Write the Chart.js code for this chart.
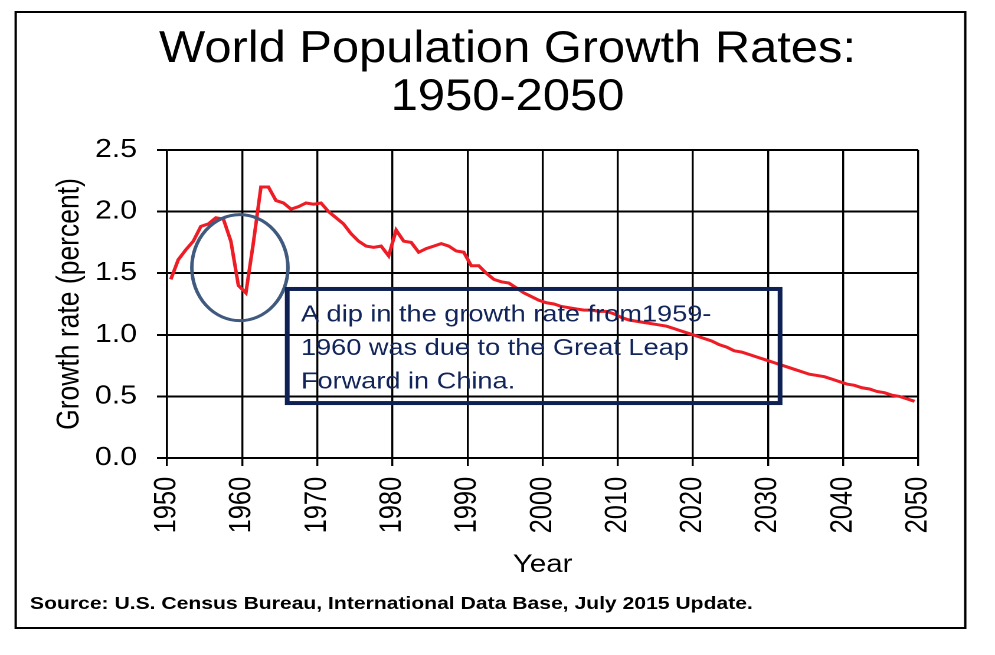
<!DOCTYPE html>
<html>
<head>
<meta charset="utf-8">
<title>World Population Growth Rates: 1950-2050</title>
<script src="https://cdn.jsdelivr.net/npm/chart.js@4.4.1/dist/chart.umd.min.js"></script>
<style>
  html, body { margin: 0; padding: 0; background: #fff; overflow: hidden; }
  /* the original slide is stretched sideways, so the canvas is too */
  #wrap { width: 843px; height: 655px; transform: scaleX(1.1803); transform-origin: 0 0; }
</style>
</head>
<body>
<div id="wrap"><canvas id="growthChart" width="843" height="655"></canvas></div>
<script>
// mid-year growth rates, 1950 .. 2049
const years = [];
for (let y = 1950; y <= 2049; y++) years.push(y);

const growthRate = [
  1.45, 1.61, 1.69, 1.76, 1.88, 1.90, 1.95, 1.94, 1.76, 1.40,
  1.34, 1.75, 2.20, 2.20, 2.09, 2.07, 2.02, 2.04, 2.07, 2.06,
  2.07, 2.00, 1.95, 1.90, 1.82, 1.76, 1.72, 1.71, 1.72, 1.64,
  1.85, 1.76, 1.75, 1.67, 1.70, 1.72, 1.74, 1.72, 1.68, 1.67,
  1.56, 1.56, 1.50, 1.45, 1.43, 1.42, 1.38, 1.34, 1.31, 1.28,
  1.26, 1.25, 1.23, 1.22, 1.21, 1.20, 1.20, 1.19, 1.19, 1.17,
  1.14, 1.12, 1.11, 1.10, 1.09, 1.08, 1.07, 1.05, 1.03, 1.01,
  0.99, 0.97, 0.95, 0.92, 0.90, 0.87, 0.86, 0.84, 0.82, 0.80,
  0.78, 0.76, 0.74, 0.72, 0.70, 0.68, 0.67, 0.66, 0.64, 0.62,
  0.60, 0.59, 0.57, 0.56, 0.54, 0.53, 0.51, 0.50, 0.48, 0.46
];

const xTickValues = [1950, 1960, 1970, 1980, 1990, 2000, 2010, 2020, 2030, 2040, 2050];
const yTickValues = [0, 0.5, 1.0, 1.5, 2.0, 2.5];

const titleLines = ["World Population Growth Rates:", "1950-2050"];
const sourceText = "Source: U.S. Census Bureau, International Data Base, July 2015 Update.";
const noteLines = [
  "A dip in the growth rate from1959-",
  "1960 was due to the Great Leap",
  "Forward in China."
];

const FONT = "'Liberation Sans', Arial, Helvetica, sans-serif";
Chart.defaults.font.family = FONT;
Chart.defaults.color = "#000";

// frame, title, source line, the circle and the note box
const slideDecor = {
  id: "slideDecor",
  beforeDraw(chart) {
    const ctx = chart.ctx;
    ctx.save();
    ctx.strokeStyle = "#000";
    ctx.lineWidth = 2;
    ctx.strokeRect(13.3, 12, 804.5, 616);

    ctx.fillStyle = "#000";
    ctx.textAlign = "center";
    ctx.textBaseline = "alphabetic";
    ctx.font = "44.5px " + FONT;
    [62, 110].forEach((base, i) => {
      ctx.save();
      ctx.translate(430, base);
      ctx.scale(0.93, 1);
      ctx.fillText(titleLines[i], 0, 0);
      ctx.restore();
    });

    ctx.textAlign = "left";
    ctx.font = "bold 17.9px " + FONT;
    ctx.fillText(sourceText, 25.4, 609);
    ctx.restore();
  },
  afterDatasetsDraw(chart) {
    const { ctx, scales: { x, y } } = chart;
    ctx.save();

    // circle round the 1959-60 dip
    ctx.strokeStyle = "#3f5a7e";
    ctx.lineWidth = 3;
    ctx.beginPath();
    ctx.ellipse(x.getPixelForValue(1959.7), y.getPixelForValue(1.545), 40.7, 53, 0, 0, Math.PI * 2);
    ctx.stroke();

    // note box
    const left = x.getPixelForValue(1966.0);
    const right = x.getPixelForValue(2031.6);
    const top = y.getPixelForValue(1.372);
    const bottom = y.getPixelForValue(0.446);
    ctx.strokeStyle = "#0f2154";
    ctx.lineWidth = 4;
    ctx.strokeRect(left, top, right - left, bottom - top);

    ctx.fillStyle = "#12255a";
    ctx.font = "23px " + FONT;
    ctx.textAlign = "left";
    ctx.textBaseline = "alphabetic";
    noteLines.forEach((line, i) => {
      ctx.fillText(line, left + 11.6, top + 32.7 + i * 33.3);
    });
    ctx.restore();
  }
};

const ctx = document.getElementById("growthChart").getContext("2d");
new Chart(ctx, {
  type: "line",
  data: {
    datasets: [
      {
        label: "Growth rate",
        // each annual rate sits in the middle of its year
        data: years.map((yr, i) => ({ x: yr + 0.5, y: growthRate[i] })),
        borderColor: "#ee1c25",
        borderWidth: 3,
        pointRadius: 0,
        tension: 0,
        fill: false,
      },
    ],
  },
  options: {
    responsive: false,
    animation: false,
    devicePixelRatio: 2,
    layout: { padding: { top: 150, left: 12, right: 65, bottom: 75 } },
    plugins: {
      legend: { display: false },
      tooltip: { enabled: false },
      title: { display: false },
    },
    scales: {
      x: {
        type: "linear",
        position: "bottom",
        min: 1950,
        max: 2050,
        afterBuildTicks: (s) => { s.ticks = xTickValues.map((v) => ({ value: v })); },
        afterFit: (s) => { s.height = 122; },
        ticks: {
          autoSkip: false,
          minRotation: 90,
          maxRotation: 90,
          padding: 10.7,
          font: { size: 25.5 },
          color: "#000",
          callback: (v) => String(v),
        },
        grid: { color: "#000", lineWidth: 1.7, tickLength: 8, drawTicks: true },
        border: { color: "#000", width: 1.5 },
        title: {
          display: true,
          text: "Year",
          color: "#000",
          font: { size: 25, lineHeight: 1 },
          padding: { top: 0, bottom: 2.5 },
        },
      },
      y: {
        min: 0,
        max: 2.5,
        afterBuildTicks: (s) => { s.ticks = yTickValues.map((v) => ({ value: v })); },
        afterFit: (s) => { s.width = 129.5; },
        ticks: {
          padding: 17,
          font: { size: 25.5 },
          color: "#000",
          callback: (v) => v.toFixed(1),
        },
        grid: { color: "#000", lineWidth: 2, tickLength: 8.5, drawTicks: true },
        border: { color: "#000", width: 1.7 },
        title: {
          display: true,
          text: "Growth rate (percent)",
          color: "#000",
          font: { size: 26.5, lineHeight: 1 },
          padding: { top: 34, bottom: 0 },
        },
      },
    },
  },
  plugins: [slideDecor],
});
</script>
</body>
</html>
